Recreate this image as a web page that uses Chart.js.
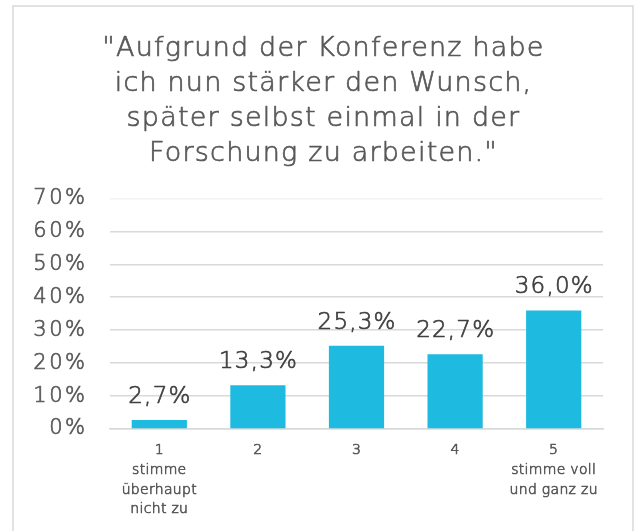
<!DOCTYPE html>
<html><head><meta charset="utf-8">
<script src="https://cdn.jsdelivr.net/npm/chart.js@4"></script>
<style>html,body{margin:0;padding:0;background:#fff}#wrap{width:638px;height:531px;position:relative}</style>
</head><body><div id="wrap"><canvas id="c" width="638" height="531"></canvas></div>
<script>
const titleLines = ['"Aufgrund der Konferenz habe', 'ich nun stärker den Wunsch,', 'später selbst einmal in der', 'Forschung zu arbeiten."'];
const categories = [['1', 'stimme', 'überhaupt', 'nicht zu'], '2', '3', '4', ['5', 'stimme voll', 'und ganz zu']];
const values = [2.7, 13.3, 25.3, 22.7, 36.0];
const yTicks = [0, 10, 20, 30, 40, 50, 60, 70];

const FONT = "'DejaVu Sans', sans-serif";
const W = '200';
const fmt = v => v.toFixed(1).replace('.', ',') + '%';

function wrapDraw(obj, key, ctx, sp, dx) {
  const orig = obj[key];
  if (orig.__wrapped) return;
  const f = function(...args) {
    ctx.save();
    ctx.letterSpacing = sp;
    if (dx) ctx.translate(dx, 0);
    const r = orig.apply(this, args);
    ctx.restore();
    return r;
  };
  f.__wrapped = true;
  obj[key] = f;
}

function thickenText(ctx, w) {
  if (ctx.__thickened) return;
  ctx.__thickened = true;
  const P = CanvasRenderingContext2D.prototype;
  ctx.fillText = function(t, x, y, m) {
    if (m === undefined) P.fillText.call(this, t, x, y); else P.fillText.call(this, t, x, y, m);
    this.save();
    this.strokeStyle = this.fillStyle;
    this.lineWidth = w;
    this.lineJoin = 'round';
    if (m === undefined) P.strokeText.call(this, t, x, y); else P.strokeText.call(this, t, x, y, m);
    this.restore();
  };
}

const spacingPlugin = {
  id: 'spacing',
  beforeInit(chart) { thickenText(chart.ctx, 0.7); },
  afterLayout(chart) {
    const ctx = chart.ctx;
    if (chart.titleBlock) wrapDraw(chart.titleBlock, 'draw', ctx, '1.2px', 22);
    wrapDraw(chart.scales.y, 'drawLabels', ctx, '2.5px', 0);
    wrapDraw(chart.scales.x, 'drawLabels', ctx, '0.3px', 0);
  }
};

const framePlugin = {
  id: 'frame',
  beforeDraw(chart) {
    const ctx = chart.ctx;
    ctx.save();
    ctx.strokeStyle = '#d9d9d9';
    ctx.lineWidth = 1.5;
    ctx.strokeRect(13, 6, 620, 560);
    ctx.restore();
  }
};
const labelPlugin = {
  id: 'vlabels',
  afterDatasetsDraw(chart) {
    const ctx = chart.ctx;
    const meta = chart.getDatasetMeta(0);
    ctx.save();
    ctx.font = W + " 23px " + FONT;
    ctx.letterSpacing = '1.2px';
    ctx.fillStyle = '#404040';
    ctx.textAlign = 'center';
    ctx.textBaseline = 'alphabetic';
    meta.data.forEach((bar, i) => {
      ctx.fillText(fmt(values[i]), bar.x + 0.6, bar.y - 17);
    });
    ctx.restore();
  }
};

new Chart(document.getElementById('c'), {
  type: 'bar',
  data: {
    labels: categories,
    datasets: [{
      data: values,
      backgroundColor: '#1fbadf',
      borderWidth: 0,
      categoryPercentage: 1,
      barPercentage: 0.56
    }]
  },
  options: {
    responsive: false,
    animation: false,
    layout: { padding: { left: 0, right: 35, top: 0, bottom: 0 } },
    plugins: {
      legend: { display: false },
      tooltip: { enabled: false },
      title: {
        display: true,
        text: titleLines,
        color: '#595959',
        font: { family: FONT, size: 27, weight: W, lineHeight: 1.3 },
        padding: { top: 31, bottom: 27 }
      }
    },
    scales: {
      x: {
        grid: { display: false, drawTicks: false },
        border: { display: true, color: '#d9d9d9', width: 1.5 },
        ticks: { color: '#595959', font: { family: FONT, size: 14, weight: W, lineHeight: 1.4 }, padding: 12, maxRotation: 0, autoSkip: false },
        afterFit(s) { s.height = 102; }
      },
      y: {
        min: 0, max: 70,
        afterBuildTicks(s) { s.ticks = yTicks.map(v => ({ value: v })); },
        grid: { color: ctx => (ctx.tick && ctx.tick.value === 70) ? '#f2f2f2' : '#d9d9d9', lineWidth: 1.5, drawTicks: false },
        border: { display: false },
        ticks: { color: '#595959', font: { family: FONT, size: 21, weight: W }, padding: 22.5, callback: v => v + '%' },
        afterFit(s) { s.width = 110; }
      }
    }
  },
  plugins: [spacingPlugin, framePlugin, labelPlugin]
});
</script></body></html>
